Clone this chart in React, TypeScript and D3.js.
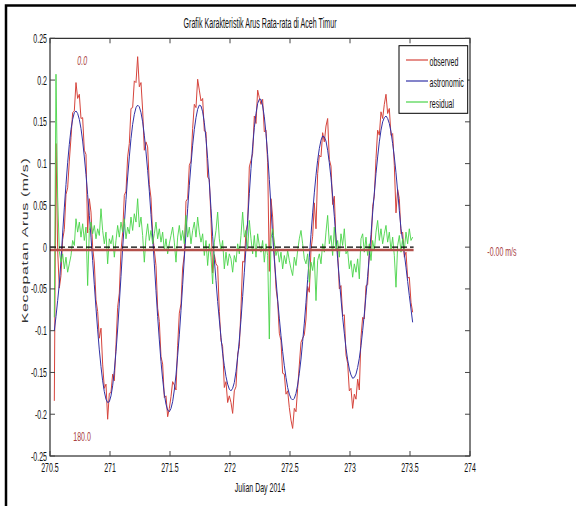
import React from 'react';
import * as d3 from 'd3';

// ---- data ----
const startDay = 270.536; // first sample (Julian day)
const stepDays = 1 / 72; // 20-minute sampling

const astronomic = [
  -0.100, -0.083, -0.064, -0.044, -0.016, 0.017, 0.047, 0.075, 0.101, 0.123,
  0.141, 0.153, 0.161, 0.163, 0.160, 0.153, 0.142, 0.127, 0.108, 0.087,
  0.063, 0.038, 0.012, -0.016, -0.045, -0.073, -0.099, -0.123, -0.143, -0.160,
  -0.173, -0.182, -0.186, -0.185, -0.178, -0.166, -0.148, -0.125, -0.098, -0.067,
  -0.035, -0.001, 0.028, 0.057, 0.084, 0.108, 0.130, 0.147, 0.159, 0.167,
  0.170, 0.168, 0.161, 0.150, 0.134, 0.114, 0.092, 0.067, 0.039, 0.012,
  -0.020, -0.052, -0.083, -0.111, -0.137, -0.158, -0.176, -0.188, -0.195, -0.197,
  -0.193, -0.185, -0.171, -0.153, -0.130, -0.105, -0.076, -0.045, -0.013, 0.017,
  0.046, 0.074, 0.099, 0.122, 0.141, 0.155, 0.165, 0.170, 0.169, 0.162,
  0.149, 0.130, 0.106, 0.077, 0.046, 0.013, -0.015, -0.040, -0.065, -0.087,
  -0.108, -0.127, -0.142, -0.155, -0.164, -0.170, -0.172, -0.169, -0.162, -0.149,
  -0.132, -0.111, -0.087, -0.059, -0.030, -0.001, 0.032, 0.064, 0.094, 0.120,
  0.143, 0.160, 0.172, 0.177, 0.177, 0.169, 0.156, 0.136, 0.111, 0.081,
  0.048, 0.014, -0.015, -0.039, -0.063, -0.085, -0.106, -0.125, -0.142, -0.156,
  -0.168, -0.176, -0.181, -0.183, -0.181, -0.175, -0.165, -0.151, -0.134, -0.113,
  -0.091, -0.066, -0.039, -0.012, 0.015, 0.041, 0.065, 0.086, 0.104, 0.118,
  0.128, 0.133, 0.132, 0.127, 0.116, 0.101, 0.083, 0.061, 0.037, 0.011,
  -0.014, -0.038, -0.062, -0.084, -0.103, -0.121, -0.135, -0.146, -0.153, -0.157,
  -0.156, -0.152, -0.144, -0.133, -0.118, -0.100, -0.080, -0.058, -0.035, -0.010,
  0.015, 0.041, 0.065, 0.088, 0.108, 0.126, 0.140, 0.150, 0.155, 0.157,
  0.154, 0.148, 0.138, 0.124, 0.108, 0.089, 0.067, 0.044, 0.022, 0.008,
  -0.008, -0.024, -0.041, -0.058, -0.074, -0.090,
];

const residual = [
  -0.084, 0.207, 0.060, -0.005, -0.018, -0.008, -0.026, -0.012, -0.030, -0.020,
  -0.010, 0.008, 0.002, 0.034, 0.018, 0.030, 0.012, 0.028, 0.008, 0.024,
  -0.046, 0.020, 0.030, 0.016, 0.026, 0.010, 0.022, 0.014, 0.046, 0.020,
  0.004, 0.018, -0.020, 0.010, 0.004, 0.014, -0.012, 0.008, 0.026, 0.012,
  0.030, 0.018, 0.034, 0.010, 0.024, 0.016, 0.036, 0.020, 0.040, 0.030,
  0.058, 0.024, 0.036, 0.014, -0.018, 0.012, 0.028, 0.008, 0.020, 0.004,
  0.016, 0.030, 0.010, 0.022, 0.006, 0.018, -0.004, 0.010, -0.008, 0.004,
  0.014, 0.024, 0.006, -0.018, 0.012, 0.026, 0.008, 0.020, 0.004, 0.038,
  0.012, 0.024, 0.004, 0.020, 0.030, 0.012, 0.036, 0.018, 0.006, 0.016,
  -0.010, 0.008, -0.022, 0.004, -0.012, -0.044, 0.006, 0.020, 0.042, 0.010,
  -0.004, 0.008, -0.026, -0.006, -0.022, -0.008, -0.014, -0.030, -0.010, -0.018,
  0.004, -0.008, 0.014, 0.042, 0.012, 0.020, -0.004, 0.032, 0.010, -0.008,
  0.014, -0.012, 0.016, 0.002, -0.006, 0.008, -0.018, 0.004, -0.010, -0.110,
  0.010, 0.022, 0.006, -0.010, -0.002, -0.018, -0.006, -0.026, -0.010, -0.020,
  -0.004, -0.016, -0.026, -0.034, -0.012, -0.022, -0.004, 0.010, 0.020, 0.004,
  -0.014, -0.020, -0.008, -0.042, -0.018, -0.028, -0.012, -0.064, -0.016, -0.008,
  -0.020, 0.004, -0.006, 0.018, 0.038, 0.004, 0.014, -0.010, 0.024, -0.004,
  0.008, -0.012, 0.016, 0.002, 0.022, -0.008, -0.004, -0.026, -0.016, -0.036,
  -0.020, -0.030, -0.014, -0.038, 0.010, 0.016, -0.006, 0.012, -0.010, 0.004,
  -0.016, 0.008, -0.004, 0.018, 0.032, 0.008, 0.022, 0.004, 0.016, 0.026,
  0.006, 0.018, -0.004, 0.012, -0.010, -0.048, 0.002, 0.014, -0.006, 0.010,
  -0.004, 0.018, 0.004, 0.022, 0.008, 0.012,
];

// observed = astronomic + residual
const observed = astronomic.map((a, i) => a + residual[i]);

const xTicks = [270.5, 271, 271.5, 272, 272.5, 273, 273.5, 274];
const xTickLabels = ['270.5', '271', '271.5', '272', '272.5', '273', '273.5', '274'];
const yTicks = [0.25, 0.2, 0.15, 0.1, 0.05, 0, -0.05, -0.1, -0.15, -0.2, -0.25];
const yTickLabels = ['0.25', '0.2', '0.15', '0.1', '0.05', '0', '-0.05', '-0.1', '-0.15', '-0.2', '-0.25'];
const meanSpan = [270.5, 273.53];
const meanValue = -0.0035;
const legendLabels = ['observed', 'astronomic', 'residual'];

const COLORS = {
  observed: '#d6443c',
  astronomic: '#3232a6',
  residual: '#48d448',
  mean: '#b4504b',
  note: '#a8423f',
};

const FONT = '"Liberation Sans", Arial, sans-serif';

function NText(props: {
  x: number; y: number; children: React.ReactNode; anchor?: string; size?: number;
  sx?: number; fill?: string; italic?: boolean;
}) {
  const { x, y, children, anchor = 'start', size = 13, sx = 0.54, fill = '#111', italic } = props;
  return (
    <text
      transform={`translate(${x},${y}) scale(${sx},1)`}
      textAnchor={anchor as any}
      fontSize={size}
      fontFamily={FONT}
      fontStyle={italic ? 'italic' : 'normal'}
      fill={fill}
    >
      {children}
    </text>
  );
}

export default function App() {
  const W = 576, H = 506;
  const left = 50, right = 470, top = 38.3, bottom = 456;
  const x = d3.scaleLinear().domain([270.5, 274]).range([left, right]);
  const y = d3.scaleLinear().domain([-0.25, 0.25]).range([bottom, top]);

  const line = d3.line<number>()
    .x((_, i) => x(startDay + i * stepDays))
    .y((d) => y(d));

  const spanLine = d3.line<number>().x((d) => x(d)).y(() => 0);

  const tickLen = 5;
  const legendRows = [COLORS.observed, COLORS.astronomic, COLORS.residual];
  const legendY = [60, 81, 102];

  return (
    <svg
      width={W}
      height={H}
      style={{ position: 'fixed', left: 0, top: 0, background: '#fff' }}
    >
      <rect x={0} y={0} width={W} height={H} fill="#fff" />
      {/* figure border */}
      <path d={`M6,${H} V5.5 H${W}`} fill="none" stroke="#000" strokeWidth={2.5} />

      {/* title */}
      <text
        x={(left + right) / 2}
        y={27.5}
        textAnchor="middle"
        fontSize={14}
        fontFamily={FONT}
        fill="#111"
        textLength={153}
        lengthAdjust="spacingAndGlyphs"
      >
        Grafik Karakteristik Arus Rata-rata di Aceh Timur
      </text>

      {/* data lines */}
      <path d={line(observed) || ''} fill="none" stroke={COLORS.observed} strokeWidth={1} />
      <path d={line(astronomic) || ''} fill="none" stroke={COLORS.astronomic} strokeWidth={1} />
      <path d={line(residual) || ''} fill="none" stroke={COLORS.residual} strokeWidth={0.9} />

      {/* mean lines */}
      <path
        d={spanLine(meanSpan) || ''}
        transform={`translate(0,${y(meanValue)})`}
        fill="none"
        stroke={COLORS.mean}
        strokeWidth={2.5}
      />
      <path
        d={spanLine(meanSpan) || ''}
        transform={`translate(0,${y(0)})`}
        fill="none"
        stroke="#000"
        strokeWidth={1.4}
        strokeDasharray="6,3"
      />

      {/* axes box */}
      <rect x={left} y={top} width={right - left} height={bottom - top} fill="none" stroke="#000" strokeWidth={1} />

      {/* x ticks */}
      {xTicks.map((t, i) => (
        <g key={'xt' + i}>
          <line x1={x(t)} x2={x(t)} y1={bottom} y2={bottom - tickLen} stroke="#444" />
          <line x1={x(t)} x2={x(t)} y1={top} y2={top + tickLen} stroke="#444" />
          <NText x={x(t)} y={472} anchor="middle">{xTickLabels[i]}</NText>
        </g>
      ))}

      {/* y ticks */}
      {yTicks.map((v, i) => (
        <g key={'yt' + i}>
          <line x1={left} x2={left + tickLen} y1={y(v)} y2={y(v)} stroke="#444" />
          <line x1={right} x2={right - tickLen} y1={y(v)} y2={y(v)} stroke="#444" />
          <NText x={47} y={y(v) + 4.5} anchor="end">{yTickLabels[i]}</NText>
        </g>
      ))}

      {/* axis labels */}
      <NText x={(left + right) / 2} y={492} anchor="middle">Julian Day 2014</NText>
      <text
        transform={`translate(28,${240.5}) scale(0.58,1) rotate(-90)`}
        textAnchor="middle"
        fontSize={16}
        fontFamily={FONT}
        fill="#333"
        letterSpacing={0.6}
      >
        Kecepatan Arus (m/s)
      </text>

      {/* annotations */}
      <NText x={77.3} y={65} fill={COLORS.note} italic>0.0</NText>
      <NText x={73.3} y={441} fill={COLORS.note}>180.0</NText>
      <NText x={487.3} y={256} fill={COLORS.note}>-0.00 m/s</NText>

      {/* legend */}
      <rect x={399} y={45.7} width={68.7} height={67.6} fill="#fff" stroke="#000" strokeWidth={1} />
      {legendLabels.map((lab, i) => (
        <g key={'lg' + i}>
          <line x1={406} x2={428} y1={legendY[i]} y2={legendY[i]} stroke={legendRows[i]} strokeWidth={1.2} />
          <NText x={429.5} y={legendY[i] + 5.5}>{lab}</NText>
        </g>
      ))}
    </svg>
  );
}
